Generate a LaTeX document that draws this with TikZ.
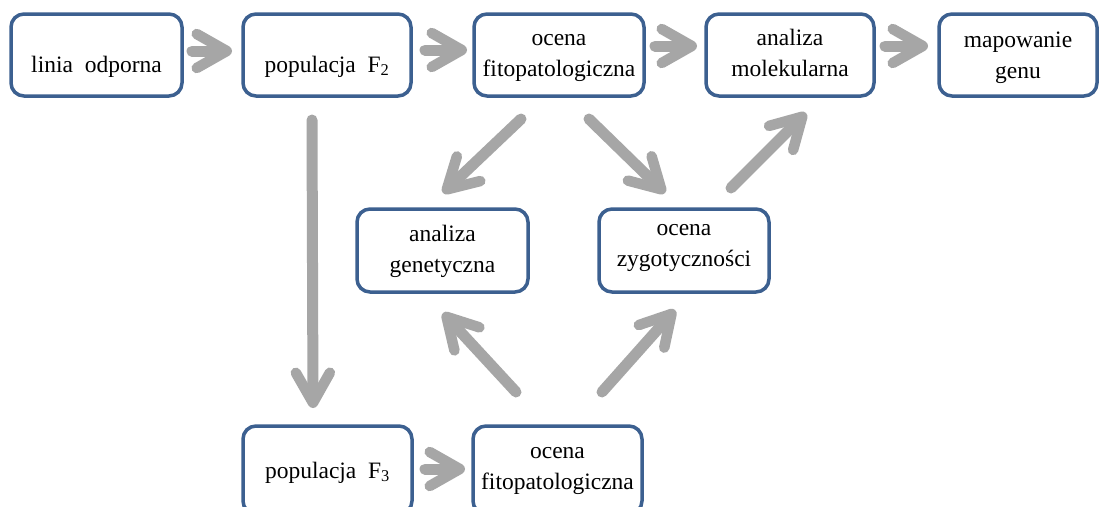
\documentclass[tikz,border=0pt]{standalone}
\usepackage{fontspec}
\setmainfont{Liberation Serif}
\usetikzlibrary{arrows.meta}
\definecolor{boxblue}{HTML}{3C6090}
\definecolor{agray}{HTML}{A6A6A6}
\newcommand\bt[2][0pt]{\raisebox{#1}[\height][\depth]{\begin{tabular}{@{}c@{}}#2\end{tabular}}}
\begin{document}
\begin{tikzpicture}[x=1pt,y=-1pt,
  box/.style={draw=boxblue, line width=3.5pt, rounded corners=13pt, fill=white,
    inner sep=0pt, outer sep=0pt, font=\fontsize{23.5}{31}\selectfont},
  garrow/.style={draw=agray, line width=11pt, line cap=round,
    -{Straight Barb[length=30pt,width=34pt,line width=10.5pt,round]}}]
\clip (0,0) rectangle (1100,506);
\fill[white] (0,0) rectangle (1100,506);
% top row
\node[box, minimum width=171pt, minimum height=82pt] (lin) at (96.5,55) {\bt[-11pt]{linia~~odporna}};
\node[box, minimum width=168pt, minimum height=82pt] (pf2) at (327,55) {\bt[-11pt]{populacja~~F\textsubscript{2}}};
\node[box, minimum width=170pt, minimum height=82pt] (ofit) at (559,55) {\bt{ocena\\fitopatologiczna}};
\node[box, minimum width=168pt, minimum height=82pt] (amol) at (790,55) {\bt{analiza\\molekularna}};
\node[box, minimum width=158pt, minimum height=82pt] (mgen) at (1018,55) {\bt[-2pt]{mapowanie\\genu}};
% middle row
\node[box, minimum width=171pt, minimum height=83pt] (agen) at (442.5,250.5) {\bt{analiza\\genetyczna}};
\node[box, minimum width=170pt, minimum height=83pt] (ozyg) at (684,250.5) {\bt[6pt]{ocena\\zygotyczności}};
% bottom row
\node[box, minimum width=169pt, minimum height=88pt] (pf3) at (327.5,470) {\bt[-2pt]{populacja~~F\textsubscript{3}}};
\node[box, minimum width=169pt, minimum height=88pt] (ofit2) at (557.5,470) {\bt[2pt]{ocena\\fitopatologiczna}};
% arrows
\draw[garrow] ([shift={(10,-4)}]lin.east) -- ([shift={(-11,-4)}]pf2.west);
\draw[garrow] ([shift={(14,-5)}]pf2.east) -- ([shift={(-7,-5)}]ofit.west);
\draw[garrow] ([shift={(11,-9)}]ofit.east) -- ([shift={(-9,-9)}]amol.west);
\draw[garrow] ([shift={(11,-9)}]amol.east) -- ([shift={(-11,-9)}]mgen.west);
\draw[garrow] ([shift={(-38,23)}]ofit.south) -- ([shift={(0.5,-16)}]agen.north);
\draw[garrow] ([shift={(30,23)}]ofit.south) -- ([shift={(-19,-16)}]ozyg.north);
\draw[garrow] ([shift={(47,-21)}]ozyg.north) -- ([shift={(16,17)}]amol.south);
\draw[garrow] ([shift={(-15,24)}]pf2.south) -- ([shift={(-14.5,-18)}]pf3.north);
\draw[garrow] ([shift={(-41.5,-34)}]ofit2.north) -- ([shift={(0.5,21)}]agen.south);
\draw[garrow] ([shift={(44.5,-34)}]ofit2.north) -- ([shift={(-9,18)}]ozyg.south);
\draw[garrow] ([shift={(13,-1)}]pf3.east) -- ([shift={(-8,-1)}]ofit2.west);
\end{tikzpicture}
\end{document}
